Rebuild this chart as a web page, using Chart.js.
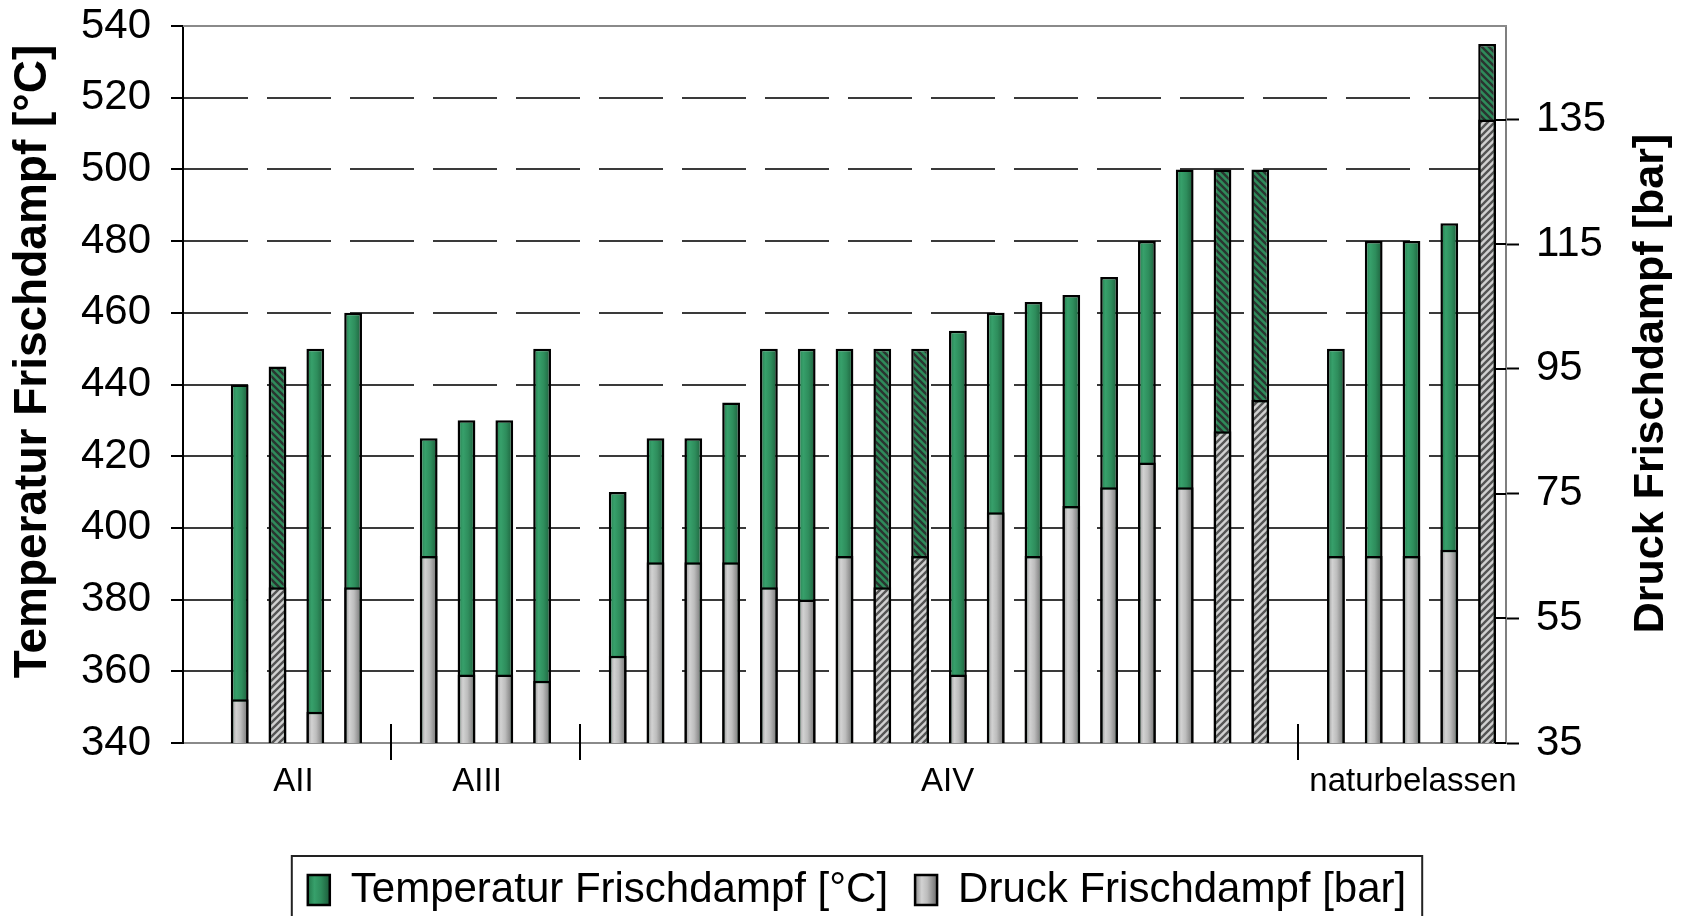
<!DOCTYPE html>
<html>
<head>
<meta charset="utf-8">
<script src="https://cdn.jsdelivr.net/npm/chart.js@4.4.1/dist/chart.umd.min.js"></script>
<style>
html,body{margin:0;padding:0;background:#fff;overflow:hidden}
#wrap{position:relative;width:1684px;height:916px}
</style>
</head>
<body>
<div id="wrap"><canvas id="c" width="1684" height="916"></canvas></div>
<script>
// ---------------- data ----------------
const categories = ['', 'AII 1', 'AII 2', 'AII 3', 'AII 4', '',
  'AIII 1', 'AIII 2', 'AIII 3', 'AIII 4', '',
  'AIV 1', 'AIV 2', 'AIV 3', 'AIV 4', 'AIV 5', 'AIV 6', 'AIV 7', 'AIV 8', 'AIV 9',
  'AIV 10', 'AIV 11', 'AIV 12', 'AIV 13', 'AIV 14', 'AIV 15', 'AIV 16', 'AIV 17', 'AIV 18', '',
  'nat 1', 'nat 2', 'nat 3', 'nat 4', 'nat 5'];
const temperature = [null, 440, 445, 450, 460, null,
  425, 430, 430, 450, null,
  410, 425, 425, 435, 450, 450, 450, 450, 450, 455, 460, 463, 465, 470, 480, 500, 500, 500, null,
  450, 480, 480, 485, 535];
const pressure = [null, 42, 60, 40, 60, null,
  65, 46, 46, 45, null,
  49, 64, 64, 64, 60, 58, 65, 60, 65, 46, 72, 65, 73, 76, 80, 76, 85, 90, null,
  65, 65, 65, 66, 135];
const hatched = [0, 0, 1, 0, 0, 0,
  0, 0, 0, 0, 0,
  0, 0, 0, 0, 0, 0, 0, 1, 1, 0, 0, 0, 0, 0, 0, 0, 1, 1, 0,
  0, 0, 0, 0, 1];
const tempTicks = [340, 360, 380, 400, 420, 440, 460, 480, 500, 520, 540];
const pressureTicks = [35, 55, 75, 95, 115, 135];
const groupNames = ['AII', 'AIII', 'AIV', 'naturbelassen'];
const groupLabelAt = [2.42, 7.28, 19.73, 32.04];
const groupSeparators = [5, 10, 29];
const seriesNames = ['Temperatur Frischdampf [\u00B0C]', 'Druck Frischdampf [bar]'];
const axisTitles = ['Temperatur Frischdampf [\u00B0C]', 'Druck Frischdampf [bar]'];

// ---------------- styles ----------------
const FONT = "'Liberation Sans', Arial, Helvetica, sans-serif";
const BAR_PCT = 0.47;
const GREEN = '#2e8b5a';
const GRAY = '#bdbdbd';
const greenStops = [[0, '#23784a'], [0.3, '#37a06b'], [0.6, '#2e8d5c'], [1, '#1c5c3a']];
const grayStops = [[0, '#8a8a8a'], [0.3, '#d2d2d2'], [0.55, '#bdbdbd'], [1, '#6c6c6c']];

function hatch(bg, fg, dir) {
  const s = 7;
  const cv = document.createElement('canvas');
  cv.width = s; cv.height = s;
  const g = cv.getContext('2d');
  g.fillStyle = bg; g.fillRect(0, 0, s, s);
  g.strokeStyle = fg; g.lineWidth = 2.4; g.lineCap = 'square';
  g.beginPath();
  for (const k of [-s, 0, s]) {
    if (dir === 'back') { g.moveTo(k - 1, -1); g.lineTo(k + s + 1, s + 1); }
    else { g.moveTo(k - 1, s + 1); g.lineTo(k + s + 1, -1); }
  }
  g.stroke();
  return document.getElementById('c').getContext('2d').createPattern(cv, 'repeat');
}
const greenHatch = hatch('#2e8b5a', '#2a3430', 'back');
const grayHatch = hatch('#d0d0d0', '#545454', 'fwd');

function gradientFor(chart, cx, w, stops) {
  const g = chart.ctx.createLinearGradient(cx - w / 2, 0, cx + w / 2, 0);
  stops.forEach(s => g.addColorStop(s[0], s[1]));
  return g;
}
function barFill(stops, pattern, solid) {
  return (c) => {
    if (c.type !== 'data') return solid;
    if (hatched[c.dataIndex]) return pattern;
    const xs = c.chart.scales.x;
    if (!xs || !(xs.width > 0)) return solid;
    const cx = xs.getPixelForValue(c.dataIndex);
    const w = xs.width / categories.length * BAR_PCT;
    return gradientFor(c.chart, cx, w, stops);
  };
}

const LEGEND_SHIFT_X = 15, LEGEND_SHIFT_Y = 5;

const decorations = {
  id: 'decorations',
  beforeDraw(chart) {
    const ctx = chart.ctx;
    ctx.save();
    ctx.fillStyle = '#fff';
    ctx.fillRect(0, 0, chart.width, chart.height);
    ctx.restore();
  },
  afterLayout(chart) {
    const lg = chart.legend;
    lg.left += LEGEND_SHIFT_X; lg.right += LEGEND_SHIFT_X;
    lg.top += LEGEND_SHIFT_Y; lg.bottom += LEGEND_SHIFT_Y;
  },
  afterUpdate(chart) {
    const lg = chart.legend;
    if (!lg || !lg.legendItems || !lg.legendHitBoxes) return;
    const bw = lg.options.labels.boxWidth;
    lg.legendItems.forEach((it, i) => {
      const hb = lg.legendHitBoxes[i];
      if (!hb) return;
      it.fillStyle = gradientFor(chart, hb.left + bw / 2, bw, it.datasetIndex === 0 ? greenStops : grayStops);
    });
  },
  afterDraw(chart) {
    const {ctx, chartArea: a, scales} = chart;
    const x = scales.x, y1 = scales.y1;
    ctx.save();
    // top frame line
    ctx.strokeStyle = '#8a8a8a'; ctx.lineWidth = 2;
    ctx.beginPath(); ctx.moveTo(a.left, a.top); ctx.lineTo(a.right + 1, a.top); ctx.stroke();
    // inner part of right axis ticks
    ctx.strokeStyle = '#000';
    pressureTicks.forEach(v => {
      const py = Math.round(y1.getPixelForValue(v));
      ctx.beginPath(); ctx.moveTo(a.right - 11, py); ctx.lineTo(a.right, py); ctx.stroke();
    });
    // group separators
    groupSeparators.forEach(v => {
      const px = Math.round(x.getPixelForValue(v));
      ctx.beginPath(); ctx.moveTo(px, a.bottom - 19); ctx.lineTo(px, a.bottom + 17); ctx.stroke();
    });
    // group labels
    ctx.fillStyle = '#000';
    ctx.font = '33px ' + FONT;
    ctx.textAlign = 'center'; ctx.textBaseline = 'middle';
    groupNames.forEach((n, i) => ctx.fillText(n, x.getPixelForValue(groupLabelAt[i]), a.bottom + 39));
    // axis titles (both read bottom-to-top)
    const midY = (a.top + a.bottom) / 2;
    [[scales.y.left + 33, midY - 23, axisTitles[0], 46], [y1.right - 33, midY - 1, axisTitles[1], 43]].forEach(t => {
      ctx.save();
      ctx.font = 'bold ' + t[3] + 'px ' + FONT;
      ctx.translate(t[0], t[1]);
      ctx.rotate(-Math.PI / 2);
      ctx.fillText(t[2], 0, 0);
      ctx.restore();
    });
    // legend frame
    const lg = chart.legend;
    const hb = lg.legendHitBoxes;
    if (hb && hb.length) {
      const first = hb[0], last = hb[hb.length - 1];
      const x0 = first.left - 16, x1 = last.left + last.width + 16;
      const yTop = first.top - 13;
      ctx.strokeStyle = '#222'; ctx.lineWidth = 2;
      ctx.strokeRect(x0, yTop, x1 - x0, 200);
    }
    ctx.restore();
  }
};

new Chart(document.getElementById('c'), {
  type: 'bar',
  data: {
    labels: categories,
    datasets: [
      {
        label: seriesNames[0],
        data: temperature,
        yAxisID: 'y',
        order: 2,
        backgroundColor: barFill(greenStops, greenHatch, GREEN),
        borderColor: '#000',
        borderWidth: 2.5,
        borderSkipped: false
      },
      {
        label: seriesNames[1],
        data: pressure,
        yAxisID: 'y1',
        order: 1,
        backgroundColor: barFill(grayStops, grayHatch, GRAY),
        borderColor: '#000',
        borderWidth: 2.5,
        borderSkipped: false
      }
    ]
  },
  options: {
    responsive: false,
    animation: false,
    devicePixelRatio: 1,
    layout: { padding: { top: 26, left: 0, right: 0, bottom: 0 } },
    datasets: { bar: { grouped: false, barPercentage: BAR_PCT, categoryPercentage: 1 } },
    plugins: {
      tooltip: { enabled: false },
      title: { display: false },
      legend: {
        position: 'bottom',
        labels: {
          font: { family: FONT, size: 42 },
          color: '#000',
          boxWidth: 22,
          boxHeight: 30,
          padding: 27,
          sort: (a, b) => a.datasetIndex - b.datasetIndex
        }
      }
    },
    scales: {
      x: {
        type: 'category',
        offset: true,
        grid: { display: false },
        border: { display: true, color: '#8a8a8a', width: 2 },
        ticks: { display: false },
        afterFit: s => { s.height = 94; }
      },
      y: {
        position: 'left',
        min: 340,
        max: 540,
        afterBuildTicks: s => { s.ticks = tempTicks.map(v => ({ value: v })); },
        afterFit: s => { s.width = 183; s.paddingTop = 0; s.paddingBottom = 0; },
        grid: {
          color: c => (c.tick && (c.tick.value === 340 || c.tick.value === 540)) ? 'rgba(0,0,0,0)' : '#3a3a3a',
          lineWidth: 2,
          tickColor: '#000',
          tickLength: 12,
          tickWidth: 2
        },
        border: { color: '#000', width: 2, dash: [64, 19] },
        ticks: { font: { family: FONT, size: 42 }, color: '#000', padding: 20 }
      },
      y1: {
        position: 'right',
        min: 35,
        max: 150,
        afterBuildTicks: s => { s.ticks = pressureTicks.map(v => ({ value: v })); },
        afterFit: s => { s.width = 178; s.paddingTop = 0; s.paddingBottom = 0; },
        grid: { drawOnChartArea: false, tickColor: '#000', tickLength: 13, tickWidth: 2 },
        border: { color: '#7f7f7f', width: 2 },
        ticks: { font: { family: FONT, size: 42 }, color: '#000', padding: 17 }
      }
    }
  },
  plugins: [decorations]
});
</script>
</body>
</html>
